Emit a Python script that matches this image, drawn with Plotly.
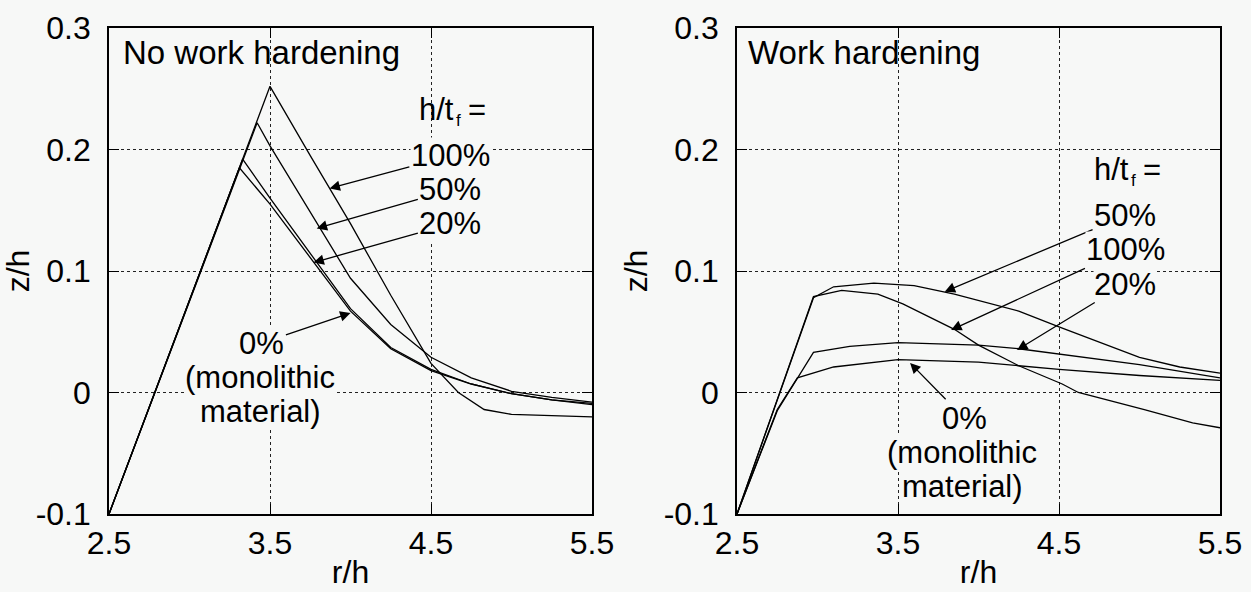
import plotly.graph_objects as go

# ---------------- data ----------------
# Left panel: no work hardening
x0L = [2.5, 3.31, 3.5, 3.75, 4.0, 4.25, 4.5, 4.75, 5.0, 5.25, 5.5]
y0L = [-0.1, 0.185, 0.155, 0.111, 0.067, 0.036, 0.018, 0.007, -0.001, -0.006, -0.010]
x20L = [2.5, 3.33, 3.5, 3.75, 4.0, 4.25, 4.5, 4.75, 5.0, 5.25, 5.5]
y20L = [-0.1, 0.192, 0.160, 0.114, 0.069, 0.037, 0.019, 0.007, -0.001, -0.006, -0.009]
x50L = [2.5, 3.42, 3.5, 3.75, 4.0, 4.25, 4.5, 4.75, 5.0, 5.25, 5.5]
y50L = [-0.1, 0.222, 0.203, 0.149, 0.094, 0.056, 0.029, 0.012, 0.001, -0.004, -0.008]
x100L = [2.5, 3.5, 3.75, 4.0, 4.25, 4.5, 4.67, 4.83, 5.0, 5.25, 5.5]
y100L = [-0.1, 0.252, 0.195, 0.139, 0.080, 0.024, 0.0, -0.014, -0.018, -0.019, -0.020]

# Right panel: work hardening
x0R = [2.5, 2.75, 2.875, 3.1, 3.5, 4.0, 4.5, 5.0, 5.5]
y0R = [-0.1, -0.014, 0.012, 0.021, 0.027, 0.025, 0.019, 0.014, 0.010]
x20R = [2.5, 2.75, 2.975, 3.2, 3.5, 4.0, 4.25, 4.65, 5.0, 5.5]
y20R = [-0.1, -0.015, 0.033, 0.038, 0.041, 0.039, 0.036, 0.029, 0.023, 0.012]
x50R = [2.5, 2.975, 3.1, 3.35, 3.6, 3.85, 4.25, 4.5, 5.0, 5.25, 5.5]
y50R = [-0.1, 0.078, 0.087, 0.090, 0.088, 0.081, 0.067, 0.054, 0.029, 0.021, 0.016]
x100R = [2.5, 2.975, 3.15, 3.375, 3.53, 3.85, 4.0, 4.25, 4.52, 4.62, 5.03, 5.33, 5.5]
y100R = [-0.1, 0.079, 0.084, 0.081, 0.073, 0.052, 0.039, 0.022, 0.007, 0.0, -0.014, -0.025, -0.029]

x_ticks = [2.5, 3.5, 4.5, 5.5]
x_ticktext = ["2.5", "3.5", "4.5", "5.5"]
y_ticks = [-0.1, 0, 0.1, 0.2, 0.3]
y_ticktext = ["-0.1", "0", "0.1", "0.2", "0.3"]

x_title = "r/h"
y_title = "z/h"
panel_titles = ["No work hardening", "Work hardening"]
mono_lines = ["(monolithic", "material)"]

# ---------------- style ----------------
BG = "#f7f8f7"
FONT = "Arial, Liberation Sans, sans-serif"
FS_TICK = 32
FS = 31
LINE = dict(color="black", width=1.3)

W, H = 1251, 592
PT, PB = 28, 514                     # plot top / bottom (px)
LX = (109, 592)                      # left panel x extent (px)
RX = (737, 1220)                     # right panel x extent (px)

def py(px):                          # pixel row -> data y
    return 0.3 - (px - PT) / (PB - PT) * 0.4

fig = go.Figure()
for xs, ys in [(x0L, y0L), (x20L, y20L), (x50L, y50L), (x100L, y100L)]:
    fig.add_trace(go.Scatter(x=xs, y=ys, mode="lines", line=LINE, xaxis="x", yaxis="y",
                             showlegend=False, hoverinfo="skip"))
for xs, ys in [(x0R, y0R), (x20R, y20R), (x50R, y50R), (x100R, y100R)]:
    fig.add_trace(go.Scatter(x=xs, y=ys, mode="lines", line=LINE, xaxis="x2", yaxis="y2",
                             showlegend=False, hoverinfo="skip"))

ydom = [1 - PB / H, 1 - PT / H]

def common():
    return dict(showgrid=True, gridcolor="#222", griddash="dot", gridwidth=1,
                zeroline=False, showline=True, linecolor="black", linewidth=1.6,
                mirror="ticks", ticks="inside", ticklen=10, tickwidth=1.2, tickcolor="black",
                tickfont=dict(family=FONT, size=FS_TICK, color="black"),
                automargin=False, fixedrange=True)

def xax(dom, anchor):
    d = common()
    d.update(domain=dom, range=[2.5, 5.5], tickvals=x_ticks, ticktext=x_ticktext,
             anchor=anchor, ticklabelstandoff=0,
             title=dict(text=x_title, standoff=0,
                        font=dict(family=FONT, size=FS_TICK, color="black")))
    return d

def yax(anchor):
    d = common()
    d.update(domain=ydom, range=[-0.1, 0.3], tickvals=y_ticks, ticktext=y_ticktext,
             anchor=anchor, ticklabelstandoff=10,
             title=dict(text=y_title, standoff=6,
                        font=dict(family=FONT, size=FS_TICK, color="black")))
    return d

fig.update_layout(
    width=W, height=H, margin=dict(l=0, r=0, t=0, b=0),
    paper_bgcolor=BG, plot_bgcolor=BG,
    font=dict(family=FONT, size=FS, color="black"),
    xaxis=xax([LX[0] / W, LX[1] / W], "y"),
    yaxis=yax("x"),
    xaxis2=xax([RX[0] / W, RX[1] / W], "y2"),
    yaxis2=yax("x2"),
    showlegend=False,
)

ann = []

def text(x, y, s, xr, yr, xanchor="center", bg=True, size=FS, xshift=0, yshift=0):
    ann.append(dict(x=x, y=y, xref=xr, yref=yr, text=s, showarrow=False,
                    xanchor=xanchor, yanchor="middle", xshift=xshift, yshift=yshift,
                    font=dict(family=FONT, size=size, color="black"),
                    bgcolor=BG if bg else None, borderpad=0))

def label_arrow(s, tx, ty, hx, hy, xr, yr):
    """Text centred at (tx, ty) with an arrow pointing to (hx, hy)."""
    ann.append(dict(x=hx, y=hy, ax=tx, ay=ty, xref=xr, yref=yr, axref=xr, ayref=yr,
                    text=s, showarrow=True, arrowhead=2, arrowsize=1.6, arrowwidth=1.3,
                    arrowcolor="black", standoff=0, startstandoff=1,
                    font=dict(family=FONT, size=FS, color="black"),
                    bgcolor=BG, borderpad=0))

def ht_label(x, y, xr, yr):
    """'h/t_f =' built from plain text pieces (subscript f drawn small and lowered)."""
    text(x, y, "h/t", xr, yr, xanchor="right", bg=False, xshift=5)
    text(x, y, "f", xr, yr, xanchor="left", bg=False, size=17, xshift=5, yshift=-11)
    text(x, y, "=", xr, yr, xanchor="left", bg=False, xshift=17)

# left panel
text(2.58, py(53), panel_titles[0], "x", "y", xanchor="left", bg=False, size=33)
ht_label(4.62, py(110), "x", "y")
label_arrow("100%", 4.62, py(156), 3.87, 0.168, "x", "y")
label_arrow("50%", 4.62, py(190), 3.79, 0.135, "x", "y")
label_arrow("20%", 4.62, py(224), 3.77, 0.107, "x", "y")
label_arrow("0%", 3.45, py(343), 4.0, 0.0655, "x", "y")
for lbl, yy in zip(mono_lines, [py(377), py(411)]):
    text(3.44, yy, lbl, "x", "y")

# right panel
text(2.56, py(53), panel_titles[1], "x2", "y2", xanchor="left", bg=False, size=33)
ht_label(4.91, py(170), "x2", "y2")
label_arrow("50%", 4.91, py(216), 3.79, 0.083, "x2", "y2")
label_arrow("100%", 4.91, py(250), 3.83, 0.0515, "x2", "y2")
label_arrow("20%", 4.91, py(284), 4.24, 0.035, "x2", "y2")
label_arrow("0%", 3.91, py(418), 3.575, 0.0243, "x2", "y2")
for lbl, yy in zip(mono_lines, [py(452), py(486)]):
    text(3.90, yy, lbl, "x2", "y2")

fig.update_layout(annotations=ann)
fig.write_html("out.html")
